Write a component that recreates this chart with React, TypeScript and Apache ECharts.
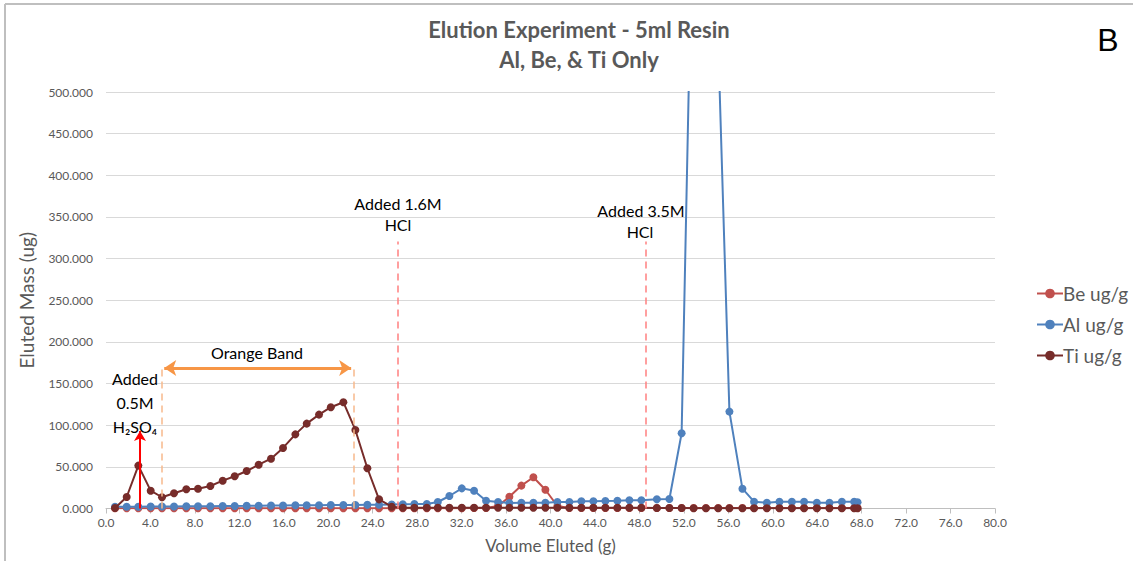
import React, { useEffect, useRef } from "react";
import * as echarts from "echarts";

const volume = [
  0.81, 1.86, 2.91, 4.02, 5.04, 6.12, 7.23, 8.28, 9.39, 10.5,
  11.58, 12.66, 13.74, 14.85, 15.93, 17.04, 18.06, 19.17, 20.23, 21.36,
  22.44, 23.52, 24.57, 25.71, 26.71, 27.75, 28.87, 29.86, 30.9, 32.02,
  33.12, 34.2, 35.28, 36.3, 37.38, 38.46, 39.54, 40.62, 41.7, 42.78,
  43.86, 44.94, 46.02, 47.1, 48.18, 49.57, 50.7, 51.8, 52.88, 53.99,
  55.09, 56.1, 57.27, 58.32, 59.47, 60.6, 61.72, 62.82, 63.97, 65.1,
  66.22, 67.33, 67.63,
];

const beValues = [
  0.3, 0.3, 0.3, 0.3, 0.3, 0.3, 0.3, 0.3, 0.3, 0.3,
  0.3, 0.3, 0.3, 0.3, 0.3, 0.3, 0.3, 0.3, 0.3, 0.3,
  0.3, 0.3, 0.3, 0.4, 0.4, 0.4, 0.4, 0.4, 0.4, 0.4,
  0.5, 0.6, 3.0, 14.0, 27.5, 37.5, 22.5, 3.0, 0.6, 0.5,
  0.5, 0.5, 0.5, 0.5, 0.5, 0.5, 0.5, 0.5, 0.5, 0.5,
  0.5, 0.5, 0.5, 0.5, 0.5, 0.5, 0.5, 0.5, 0.5, 0.5,
  0.5, 0.5, 0.5,
];

const alValues = [
  2.0, 2.2, 2.2, 2.3, 2.4, 2.5, 2.6, 2.7, 2.8, 3.0,
  3.1, 3.2, 3.4, 3.5, 3.6, 3.8, 3.9, 4.0, 4.1, 4.2,
  4.3, 4.4, 4.5, 4.8, 5.2, 5.3, 5.5, 7.8, 15.0, 24.2,
  21.4, 9.4, 7.8, 6.6, 6.8, 6.8, 7.0, 7.8, 7.8, 8.6,
  8.8, 9.0, 9.2, 9.8, 10.0, 11.0, 11.4, 90.3, 790.0, 1200.0,
  560.0, 116.3, 23.8, 8.2, 7.0, 8.2, 8.2, 8.2, 7.0, 7.0,
  8.2, 8.2, 7.5,
];

const tiValues = [
  0.6, 13.8, 51.5, 21.4, 13.5, 18.3, 23.1, 23.8, 27.0, 33.4,
  38.7, 45.0, 52.6, 59.8, 72.7, 89.0, 101.9, 112.7, 121.6, 127.6,
  94.3, 48.3, 11.0, 2.2, 1.0, 1.0, 1.0, 1.0, 1.0, 1.0,
  1.0, 1.0, 1.0, 1.0, 1.0, 1.0, 1.0, 0.9, 0.9, 0.9,
  0.9, 0.9, 0.8, 0.8, 0.8, 0.6, 0.5, 0.5, 0.4, 0.4,
  0.4, 0.4, 0.4, 0.4, 0.4, 0.4, 0.4, 0.4, 0.4, 0.4,
  0.4, 0.4, 0.4,
];

const seriesNames = ["Be ug/g", "Al ug/g", "Ti ug/g"];
const seriesColors = ["#C0504D", "#4F81BD", "#772C2A"];

// annotation positions in data units
const acidArrowX = 3.06;
const acidArrowTop = 93;
const bandStart = 5.04;
const bandEnd = 22.26;
const bandLevel = 168.8;
const hcl16X = 26.25;
const hcl35X = 48.58;
const hclTop = 320.5;

const FONT = "Lato, 'Open Sans', sans-serif";
const GRAY = "#595959";

export default function App() {
  const ref = useRef<HTMLDivElement>(null);

  useEffect(() => {
    if (!ref.current) return;
    const chart = echarts.init(ref.current, null, { renderer: "svg" });
    const toPts = (vals: number[]) => volume.map((x, i) => [x, vals[i]]);
    const valuesList = [beValues, alValues, tiValues];

    const series: any[] = seriesNames.map((name, k) => ({
      name,
      type: "line",
      data: toPts(valuesList[k]),
      symbol: "circle",
      symbolSize: 8,
      showSymbol: true,
      clip: true,
      lineStyle: { color: seriesColors[k], width: 2 },
      itemStyle: { color: seriesColors[k] },
      z: 2 + k,
    }));

    const dashed = (color: string) => ({ color, width: 1.5, type: [7, 5] });

    series.push({
      name: "annotations",
      type: "line",
      data: [],
      silent: true,
      markLine: {
        silent: true,
        symbol: ["none", "none"],
        label: { show: false },
        animation: false,
        data: [
          [
            { coord: [acidArrowX, 0], symbol: "none", lineStyle: { color: "#FF0000", width: 2, type: "solid" } },
            { coord: [acidArrowX, acidArrowTop], symbol: "arrow", symbolSize: [9, 10] },
          ],
          [
            { coord: [bandStart, 0], lineStyle: dashed("#F8B98C") },
            { coord: [bandStart, bandLevel] },
          ],
          [
            { coord: [bandEnd, 0], lineStyle: dashed("#F8B98C") },
            { coord: [bandEnd, bandLevel] },
          ],
          [
            { coord: [bandStart + 0.2, bandLevel], symbol: "arrow", symbolSize: [12, 12], lineStyle: { color: "#F79646", width: 3, type: "solid" } },
            { coord: [bandEnd - 0.2, bandLevel], symbol: "arrow", symbolSize: [12, 12] },
          ],
          [
            { coord: [hcl16X, 0], lineStyle: dashed("#FF8080") },
            { coord: [hcl16X, hclTop] },
          ],
          [
            { coord: [hcl35X, 0], lineStyle: dashed("#FF8080") },
            { coord: [hcl35X, hclTop] },
          ],
        ],
      },
    });

    const annoText = (text: string, x: number, y: number) => ({
      type: "text",
      x,
      y,
      style: {
        text,
        fill: "#000",
        font: `16px ${FONT}`,
        textAlign: "center",
        textVerticalAlign: "middle",
      },
      z: 10,
    });

    chart.setOption({
      animation: false,
      backgroundColor: "#fff",
      textStyle: { fontFamily: FONT },
      title: {
        text: "Elution Experiment - 5ml Resin\nAl, Be, & Ti Only",
        left: 574,
        top: 9,
        textAlign: "center",
        textStyle: {
          fontFamily: FONT,
          fontSize: 22,
          fontWeight: "bold",
          color: GRAY,
          lineHeight: 30,
        },
      },
      grid: { left: 106, right: 138, top: 92, bottom: 52.5, containLabel: false },
      legend: {
        orient: "vertical",
        left: 1031,
        top: 279,
        itemGap: 12,
        itemWidth: 26,
        itemHeight: 12,
        data: seriesNames,
        textStyle: { fontFamily: FONT, fontSize: 19, color: GRAY, padding: [0, 0, 0, -5] },
      },
      xAxis: {
        type: "value",
        min: 0,
        max: 80,
        interval: 4,
        name: "Volume Eluted (g)",
        nameLocation: "middle",
        nameGap: 28,
        nameTextStyle: { fontFamily: FONT, fontSize: 17, color: GRAY },
        axisLine: { show: true, lineStyle: { color: "#BFBFBF", width: 1 } },
        axisTick: { show: true, length: 5, lineStyle: { color: "#BFBFBF" } },
        axisLabel: {
          fontFamily: FONT,
          fontSize: 12,
          color: GRAY,
          margin: 8,
          formatter: (v: number) => v.toFixed(1),
        },
        splitLine: { show: false },
      },
      yAxis: {
        type: "value",
        min: 0,
        max: 500,
        interval: 50,
        name: "Eluted Mass (ug)",
        nameLocation: "middle",
        nameGap: 70,
        nameTextStyle: { fontFamily: FONT, fontSize: 19, color: GRAY },
        axisLine: { show: false },
        axisTick: { show: false },
        axisLabel: {
          fontFamily: FONT,
          fontSize: 12,
          color: GRAY,
          margin: 13,
          formatter: (v: number) => v.toFixed(3),
        },
        splitLine: { show: true, lineStyle: { color: "#D9D9D9", width: 1 } },
      },
      series,
      graphic: [
        { type: "line", shape: { x1: 5, y1: 4, x2: 1133, y2: 4 }, style: { stroke: "#BFBFBF", lineWidth: 2 } },
        { type: "line", shape: { x1: 5, y1: 4, x2: 5, y2: 561 }, style: { stroke: "#BFBFBF", lineWidth: 2 } },
        {
          type: "text",
          x: 1108,
          y: 40,
          style: {
            text: "B",
            fill: "#000",
            font: "32px 'Liberation Sans', Arial, sans-serif",
            textAlign: "center",
            textVerticalAlign: "middle",
          },
        },
        annoText("Added", 135, 378),
        annoText("0.5M", 135, 402),
        annoText("H\u2082SO\u2084", 135, 426),
        annoText("Orange Band", 257, 352),
        annoText("Added 1.6M", 398, 203),
        annoText("HCl", 398, 224),
        annoText("Added 3.5M", 641, 210),
        annoText("HCl", 640, 231),
      ],
    });

    return () => chart.dispose();
  }, []);

  return (
    <div
      ref={ref}
      style={{ position: "fixed", left: 0, top: 0, width: 1133, height: 561 }}
    />
  );
}
